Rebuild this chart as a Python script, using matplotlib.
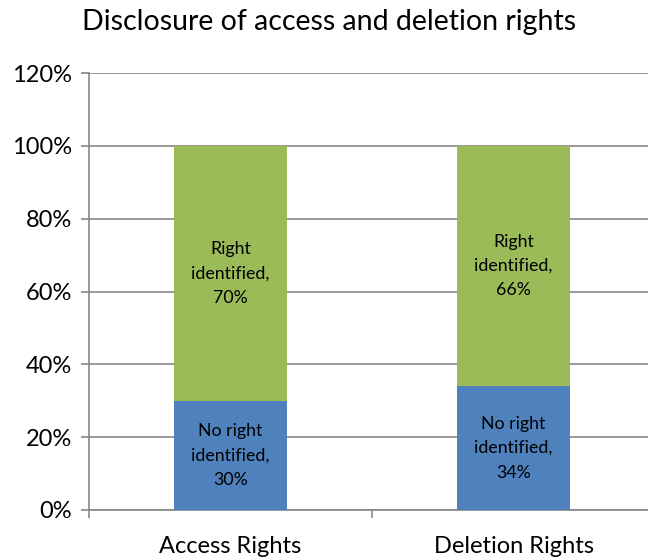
import numpy as np
import matplotlib
matplotlib.use("Agg")
import matplotlib.pyplot as plt

# data
categories = ["Access Rights", "Deletion Rights"]
no_right = [30, 34]
right_found = [70, 66]
no_right_labels = ["No right\nidentified,\n30%", "No right\nidentified,\n34%"]
right_labels = ["Right\nidentified,\n70%", "Right\nidentified,\n66%"]
y_ticks = [0, 20, 40, 60, 80, 100, 120]

plt.rcParams["font.family"] = ["Lato", "DejaVu Sans"]

fig = plt.figure(figsize=(6.48, 5.57), dpi=100)
# plot area runs a little past the right edge of the picture, as in the original
ax = fig.add_axes([89 / 648, 1 - 510 / 557, 566 / 648, 437 / 557])

x = np.arange(len(categories))
blue = "#4F81BD"
green = "#9BBB59"
ax.bar(x, no_right, width=0.40, color=blue, zorder=3)
ax.bar(x, right_found, width=0.40, bottom=no_right, color=green, zorder=3)

for i in range(len(categories)):
    ax.text(x[i], no_right[i] / 2, no_right_labels[i], ha="center", va="center",
            fontsize=12.8, linespacing=1.65, zorder=4)
    ax.text(x[i], no_right[i] + right_found[i] / 2, right_labels[i], ha="center",
            va="center", fontsize=12.8, linespacing=1.65, zorder=4)

ax.set_xlim(-0.5, 1.5)
ax.set_ylim(0, 120)
ax.set_yticks(y_ticks)
ax.set_yticklabels([f"{v}%" for v in y_ticks], fontsize=17)
ax.yaxis.grid(True, color="#878787", linewidth=1.2, zorder=0)

# ticks at category boundaries, labels at category centres
ax.set_xticks([-0.5, 0.5, 1.5])
ax.set_xticklabels([])
ax.set_xticks(x, minor=True)
ax.set_xticklabels(categories, minor=True, fontsize=17)
ax.tick_params(axis="x", which="minor", length=0, pad=19)
ax.tick_params(axis="x", which="major", length=6, color="#878787", width=1.2)
ax.tick_params(axis="y", length=6, color="#878787", width=1.2, pad=6)

for side in ["top", "right"]:
    ax.spines[side].set_visible(False)
for side in ["left", "bottom"]:
    ax.spines[side].set_color("#878787")
    ax.spines[side].set_linewidth(1.2)

fig.text(82 / 648, 1 - 22 / 557, "Disclosure of access and deletion rights",
         fontsize=20.5, ha="left", va="center")

fig.savefig("out.png", dpi=100)
